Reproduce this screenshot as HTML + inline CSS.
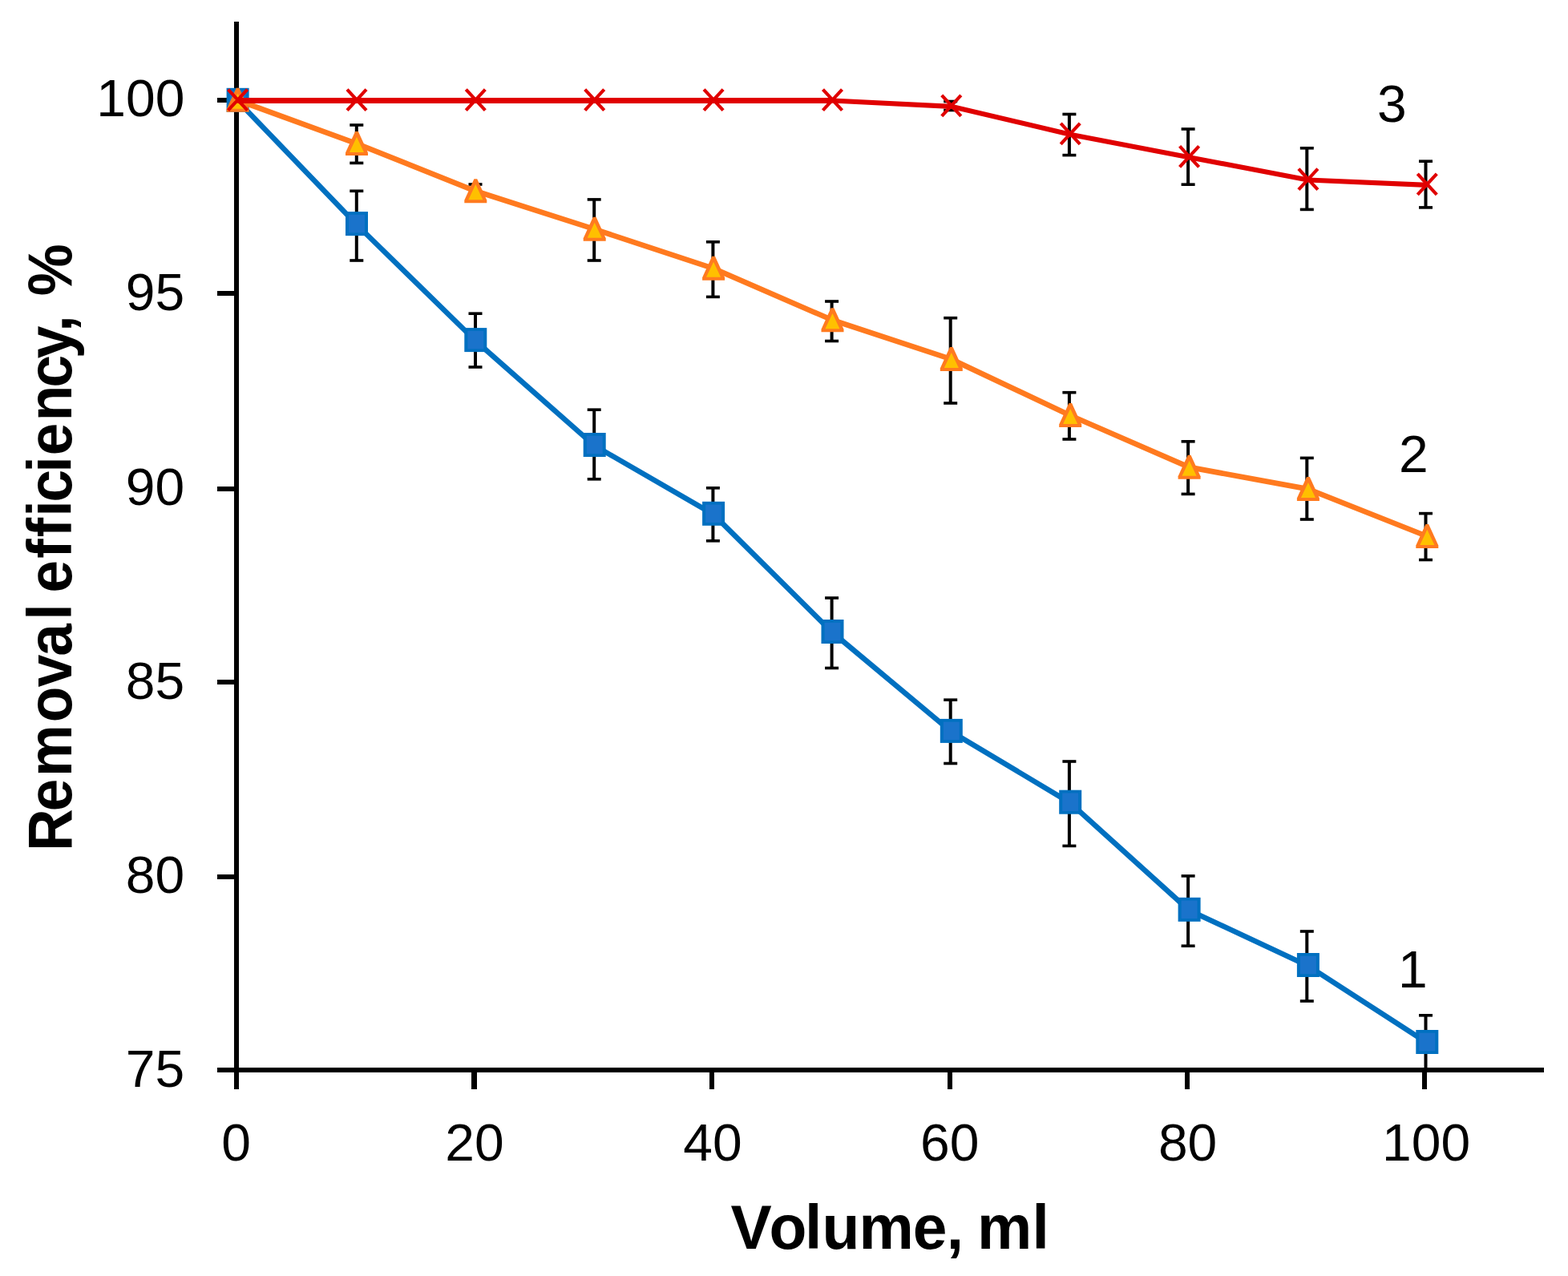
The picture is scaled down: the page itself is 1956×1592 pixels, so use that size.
<!DOCTYPE html>
<html lang="en"><head><meta charset="utf-8"><title>Removal efficiency vs volume</title>
<style>html,body{margin:0;padding:0;background:#fff}svg{display:block}.t{font-family:"Liberation Sans",sans-serif;font-size:64.6px;fill:#000}.b{font-family:"Liberation Sans",sans-serif;font-size:78px;font-weight:bold;fill:#000;font-variant-ligatures:none;white-space:pre}</style></head><body>
<svg width="1956" height="1592" viewBox="0 0 1956 1592">
<rect width="1956" height="1592" fill="#fff"/>
<g fill="#000000">
<rect x="292" y="27" width="6" height="1332"/>
<rect x="271" y="1332" width="1655" height="6"/>
<rect x="271" y="122" width="24" height="6"/>
<rect x="271" y="363" width="24" height="6"/>
<rect x="271" y="607" width="24" height="6"/>
<rect x="271" y="848" width="24" height="6"/>
<rect x="271" y="1091" width="24" height="6"/>
<rect x="588" y="1335" width="7" height="24"/>
<rect x="885" y="1335" width="6" height="24"/>
<rect x="1182" y="1335" width="6" height="24"/>
<rect x="1478" y="1335" width="6" height="24"/>
<rect x="1774" y="1335" width="6" height="24"/>
</g>
<g fill="#000000">
<rect x="442.8" y="238.3" width="4" height="86.7"/>
<rect x="436.3" y="236.5" width="17" height="3.6"/>
<rect x="436.3" y="323.2" width="17" height="3.6"/>
<rect x="591.0" y="391.2" width="4" height="66.8"/>
<rect x="584.5" y="389.4" width="17" height="3.6"/>
<rect x="584.5" y="456.2" width="17" height="3.6"/>
<rect x="739.2" y="511.2" width="4" height="86.6"/>
<rect x="732.7" y="509.4" width="17" height="3.6"/>
<rect x="732.7" y="596.0" width="17" height="3.6"/>
<rect x="887.4" y="608.8" width="4" height="66.0"/>
<rect x="880.9" y="607.0" width="17" height="3.6"/>
<rect x="880.9" y="673.0" width="17" height="3.6"/>
<rect x="1035.6" y="746.0" width="4" height="87.5"/>
<rect x="1029.1" y="744.2" width="17" height="3.6"/>
<rect x="1029.1" y="831.7" width="17" height="3.6"/>
<rect x="1183.7" y="873.2" width="4" height="79.3"/>
<rect x="1177.2" y="871.4" width="17" height="3.6"/>
<rect x="1177.2" y="950.7" width="17" height="3.6"/>
<rect x="1331.9" y="950.0" width="4" height="105.4"/>
<rect x="1325.4" y="948.2" width="17" height="3.6"/>
<rect x="1325.4" y="1053.6" width="17" height="3.6"/>
<rect x="1480.1" y="1092.9" width="4" height="87.3"/>
<rect x="1473.6" y="1091.1" width="17" height="3.6"/>
<rect x="1473.6" y="1178.4" width="17" height="3.6"/>
<rect x="1628.3" y="1162.0" width="4" height="87.0"/>
<rect x="1621.8" y="1160.2" width="17" height="3.6"/>
<rect x="1621.8" y="1247.2" width="17" height="3.6"/>
<rect x="1776.5" y="1266.8" width="4" height="69.2"/>
<rect x="1770.0" y="1265.0" width="17" height="3.6"/>
<rect x="1770.0" y="1334.2" width="17" height="3.6"/>
</g>
<polyline points="296.3,125.7 444.7,280.0 593.0,425.0 741.4,555.9 889.8,641.7 1038.2,788.9 1186.5,912.8 1334.9,1001.6 1483.3,1135.7 1631.6,1204.9 1780.0,1300.9" fill="none" stroke="#0070C0" stroke-width="6.6" stroke-linejoin="round"/>
<rect x="282.6" y="109.8" width="28" height="30" fill="#0070C0"/>
<rect x="286.6" y="113.5" width="20" height="22.6" fill="#1A73CB"/>
<rect x="431.0" y="264.1" width="28" height="30" fill="#0070C0"/>
<rect x="435.0" y="267.8" width="20" height="22.6" fill="#1A73CB"/>
<rect x="579.3" y="409.1" width="28" height="30" fill="#0070C0"/>
<rect x="583.3" y="412.8" width="20" height="22.6" fill="#1A73CB"/>
<rect x="727.7" y="540.0" width="28" height="30" fill="#0070C0"/>
<rect x="731.7" y="543.7" width="20" height="22.6" fill="#1A73CB"/>
<rect x="876.1" y="625.8" width="28" height="30" fill="#0070C0"/>
<rect x="880.1" y="629.5" width="20" height="22.6" fill="#1A73CB"/>
<rect x="1024.5" y="773.0" width="28" height="30" fill="#0070C0"/>
<rect x="1028.5" y="776.7" width="20" height="22.6" fill="#1A73CB"/>
<rect x="1172.8" y="896.9" width="28" height="30" fill="#0070C0"/>
<rect x="1176.8" y="900.6" width="20" height="22.6" fill="#1A73CB"/>
<rect x="1321.2" y="985.7" width="28" height="30" fill="#0070C0"/>
<rect x="1325.2" y="989.4" width="20" height="22.6" fill="#1A73CB"/>
<rect x="1469.6" y="1119.8" width="28" height="30" fill="#0070C0"/>
<rect x="1473.6" y="1123.5" width="20" height="22.6" fill="#1A73CB"/>
<rect x="1617.9" y="1189.0" width="28" height="30" fill="#0070C0"/>
<rect x="1621.9" y="1192.7" width="20" height="22.6" fill="#1A73CB"/>
<rect x="1766.3" y="1285.0" width="28" height="30" fill="#0070C0"/>
<rect x="1770.3" y="1288.7" width="20" height="22.6" fill="#1A73CB"/>
<g fill="#000000">
<rect x="442.8" y="156.0" width="4" height="47.4"/>
<rect x="436.3" y="154.2" width="17" height="3.6"/>
<rect x="436.3" y="201.6" width="17" height="3.6"/>
<rect x="591.0" y="230.0" width="4" height="16.5"/>
<rect x="584.5" y="228.2" width="17" height="3.6"/>
<rect x="584.5" y="244.7" width="17" height="3.6"/>
<rect x="739.2" y="248.9" width="4" height="76.1"/>
<rect x="732.7" y="247.1" width="17" height="3.6"/>
<rect x="732.7" y="323.2" width="17" height="3.6"/>
<rect x="887.4" y="301.8" width="4" height="68.6"/>
<rect x="880.9" y="300.0" width="17" height="3.6"/>
<rect x="880.9" y="368.6" width="17" height="3.6"/>
<rect x="1035.6" y="376.0" width="4" height="49.5"/>
<rect x="1029.1" y="374.2" width="17" height="3.6"/>
<rect x="1029.1" y="423.7" width="17" height="3.6"/>
<rect x="1183.7" y="396.7" width="4" height="106.3"/>
<rect x="1177.2" y="394.9" width="17" height="3.6"/>
<rect x="1177.2" y="501.2" width="17" height="3.6"/>
<rect x="1331.9" y="489.7" width="4" height="58.3"/>
<rect x="1325.4" y="487.9" width="17" height="3.6"/>
<rect x="1325.4" y="546.2" width="17" height="3.6"/>
<rect x="1480.1" y="550.8" width="4" height="65.6"/>
<rect x="1473.6" y="549.0" width="17" height="3.6"/>
<rect x="1473.6" y="614.6" width="17" height="3.6"/>
<rect x="1628.3" y="571.4" width="4" height="76.6"/>
<rect x="1621.8" y="569.6" width="17" height="3.6"/>
<rect x="1621.8" y="646.2" width="17" height="3.6"/>
<rect x="1776.5" y="640.6" width="4" height="57.9"/>
<rect x="1770.0" y="638.8" width="17" height="3.6"/>
<rect x="1770.0" y="696.7" width="17" height="3.6"/>
</g>
<polyline points="296.3,125.0 444.7,179.2 593.0,238.3 741.4,285.9 889.8,334.9 1038.2,399.3 1186.5,448.1 1334.9,518.2 1483.3,582.9 1631.6,610.1 1780.0,669.0" fill="none" stroke="#FF7A1F" stroke-width="6.7" stroke-linejoin="round"/>
<polygon points="294.7,109.8 298.5,109.8 310.6,136.3 310.6,139.8 282.6,139.8 282.6,136.3" fill="#FF7A1F"/>
<polygon points="296.6,116.7 305.7,135.8 287.6,135.8" fill="#FFC000"/>
<polygon points="443.1,164.0 446.9,164.0 459.0,190.5 459.0,194.0 431.0,194.0 431.0,190.5" fill="#FF7A1F"/>
<polygon points="445.0,170.9 454.0,190.0 435.9,190.0" fill="#FFC000"/>
<polygon points="591.4,223.2 595.2,223.2 607.3,249.7 607.3,253.2 579.3,253.2 579.3,249.7" fill="#FF7A1F"/>
<polygon points="593.3,230.1 602.4,249.2 584.3,249.2" fill="#FFC000"/>
<polygon points="739.8,270.8 743.6,270.8 755.7,297.3 755.7,300.8 727.7,300.8 727.7,297.3" fill="#FF7A1F"/>
<polygon points="741.7,277.7 750.8,296.8 732.7,296.8" fill="#FFC000"/>
<polygon points="888.2,319.8 892.0,319.8 904.1,346.3 904.1,349.8 876.1,349.8 876.1,346.3" fill="#FF7A1F"/>
<polygon points="890.1,326.7 899.1,345.8 881.0,345.8" fill="#FFC000"/>
<polygon points="1036.5,384.2 1040.4,384.2 1052.5,410.7 1052.5,414.2 1024.5,414.2 1024.5,410.7" fill="#FF7A1F"/>
<polygon points="1038.5,391.1 1047.5,410.2 1029.4,410.2" fill="#FFC000"/>
<polygon points="1184.9,433.0 1188.7,433.0 1200.8,459.5 1200.8,463.0 1172.8,463.0 1172.8,459.5" fill="#FF7A1F"/>
<polygon points="1186.8,439.9 1195.9,459.0 1177.8,459.0" fill="#FFC000"/>
<polygon points="1333.3,503.1 1337.1,503.1 1349.2,529.6 1349.2,533.1 1321.2,533.1 1321.2,529.6" fill="#FF7A1F"/>
<polygon points="1335.2,510.0 1344.2,529.1 1326.1,529.1" fill="#FFC000"/>
<polygon points="1481.7,567.8 1485.5,567.8 1497.6,594.3 1497.6,597.8 1469.6,597.8 1469.6,594.3" fill="#FF7A1F"/>
<polygon points="1483.6,574.7 1492.6,593.8 1474.5,593.8" fill="#FFC000"/>
<polygon points="1630.0,595.0 1633.8,595.0 1645.9,621.5 1645.9,625.0 1617.9,625.0 1617.9,621.5" fill="#FF7A1F"/>
<polygon points="1631.9,601.9 1641.0,621.0 1622.9,621.0" fill="#FFC000"/>
<polygon points="1778.4,653.9 1782.2,653.9 1794.3,680.4 1794.3,683.9 1766.3,683.9 1766.3,680.4" fill="#FF7A1F"/>
<polygon points="1780.3,660.8 1789.4,679.9 1771.3,679.9" fill="#FFC000"/>
<g fill="#000000">
<rect x="1183.7" y="126.5" width="4" height="11.0"/>
<rect x="1177.2" y="124.7" width="17" height="3.6"/>
<rect x="1177.2" y="135.7" width="17" height="3.6"/>
<rect x="1331.9" y="142.5" width="4" height="51.1"/>
<rect x="1325.4" y="140.7" width="17" height="3.6"/>
<rect x="1325.4" y="191.8" width="17" height="3.6"/>
<rect x="1480.1" y="161.0" width="4" height="69.2"/>
<rect x="1473.6" y="159.2" width="17" height="3.6"/>
<rect x="1473.6" y="228.4" width="17" height="3.6"/>
<rect x="1628.3" y="184.8" width="4" height="76.6"/>
<rect x="1621.8" y="183.0" width="17" height="3.6"/>
<rect x="1621.8" y="259.6" width="17" height="3.6"/>
<rect x="1776.5" y="201.2" width="4" height="57.7"/>
<rect x="1770.0" y="199.4" width="17" height="3.6"/>
<rect x="1770.0" y="257.1" width="17" height="3.6"/>
</g>
<polyline points="296.3,125.5 444.7,125.5 593.0,125.5 741.4,125.5 889.8,125.5 1038.2,125.5" fill="none" stroke="#E00000" stroke-width="7" stroke-linejoin="round"/>
<polyline points="1038.2,125.5 1186.5,132.8 1334.9,167.7 1483.3,196.2 1631.6,224.5 1780.0,230.8" fill="none" stroke="#E00000" stroke-width="6.2" stroke-linejoin="round"/>
<g stroke="#E00000" stroke-width="4.2" fill="none">
<path d="M284.6 111.6L308.6 137.6M284.6 137.6L308.6 111.6"/>
<path d="M433.0 111.6L457.0 137.6M433.0 137.6L457.0 111.6"/>
<path d="M581.3 111.6L605.3 137.6M581.3 137.6L605.3 111.6"/>
<path d="M729.7 111.6L753.7 137.6M729.7 137.6L753.7 111.6"/>
<path d="M878.1 111.6L902.1 137.6M878.1 137.6L902.1 111.6"/>
<path d="M1026.5 111.6L1050.5 137.6M1026.5 137.6L1050.5 111.6"/>
<path d="M1174.8 118.9L1198.8 144.9M1174.8 144.9L1198.8 118.9"/>
<path d="M1323.2 153.8L1347.2 179.8M1323.2 179.8L1347.2 153.8"/>
<path d="M1471.6 182.3L1495.6 208.3M1471.6 208.3L1495.6 182.3"/>
<path d="M1619.9 210.6L1643.9 236.6M1619.9 236.6L1643.9 210.6"/>
<path d="M1768.3 216.9L1792.3 242.9M1768.3 242.9L1792.3 216.9"/>
</g>
<text class="t" x="120.3" y="145.0" textLength="110.1" lengthAdjust="spacingAndGlyphs">100</text>
<text class="t" x="156.7" y="387.0" textLength="73.4" lengthAdjust="spacingAndGlyphs">95</text>
<text class="t" x="156.7" y="630.0" textLength="73.4" lengthAdjust="spacingAndGlyphs">90</text>
<text class="t" x="156.7" y="872.2" textLength="73.4" lengthAdjust="spacingAndGlyphs">85</text>
<text class="t" x="156.7" y="1114.1" textLength="73.4" lengthAdjust="spacingAndGlyphs">80</text>
<text class="t" x="156.7" y="1356.1" textLength="73.4" lengthAdjust="spacingAndGlyphs">75</text>
<text class="t" x="294.5" y="1448.0" text-anchor="middle" textLength="36.7" lengthAdjust="spacingAndGlyphs">0</text>
<text class="t" x="591.9" y="1448.0" text-anchor="middle" textLength="73.4" lengthAdjust="spacingAndGlyphs">20</text>
<text class="t" x="889.0" y="1448.0" text-anchor="middle" textLength="73.4" lengthAdjust="spacingAndGlyphs">40</text>
<text class="t" x="1184.7" y="1448.0" text-anchor="middle" textLength="73.4" lengthAdjust="spacingAndGlyphs">60</text>
<text class="t" x="1481.6" y="1448.0" text-anchor="middle" textLength="73.4" lengthAdjust="spacingAndGlyphs">80</text>
<text class="t" x="1779.1" y="1448.0" text-anchor="middle" textLength="110.1" lengthAdjust="spacingAndGlyphs">100</text>
<text class="t" x="1718.0" y="152.0" textLength="36.7" lengthAdjust="spacingAndGlyphs">3</text>
<text class="t" x="1744.9" y="589.0" textLength="36.7" lengthAdjust="spacingAndGlyphs">2</text>
<text class="t" x="1744.0" y="1232.2" textLength="36.7" lengthAdjust="spacingAndGlyphs">1</text>
<text class="b" transform="translate(912.9,1557.6) scale(0.9850,1)" x="-1.5 47.2 92.4 114.3 161.0 229.2 271.9 291.4 310.9 380.4">Volume, ml</text>
<text class="b" transform="translate(89.1,1054) rotate(-90) scale(0.9350,1)" x="-8.5 44.6 90.8 163.5 210.5 251.7 300.0 318.3 336.5 382.2 410.4 437.9 457.3 496.7 519.5 565.4 610.2 648.9 684.7 708.5 732.3">Removal efficiency, %</text>
</svg></body></html>
